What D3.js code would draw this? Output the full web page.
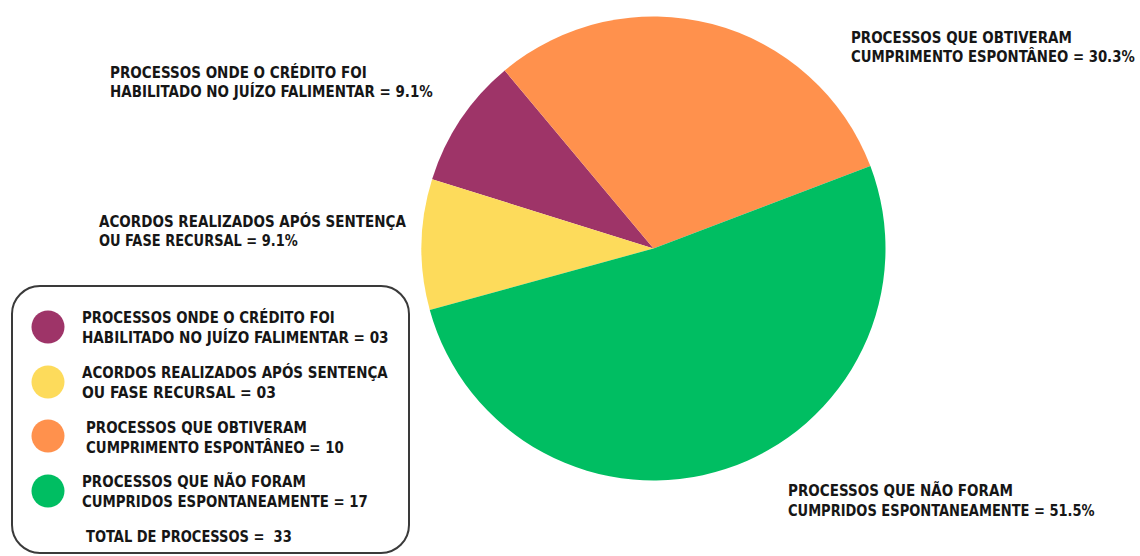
<!DOCTYPE html>
<html><head><meta charset="utf-8">
<script src="https://cdn.jsdelivr.net/npm/d3@7"></script>
<style>
html,body{margin:0;padding:0;background:#fff;}
svg{display:block;}
text{font-family:"Liberation Sans Narrow","DejaVu Sans Condensed","Liberation Sans",sans-serif;font-weight:bold;fill:#161616;white-space:pre;}
</style></head>
<body>
<script>
// Data
const categories = ["credito","acordos","obtiveram","naoCumpridos"];
const counts = [3, 3, 10, 17];
const colors = ["#9E3468", "#FDDB5B", "#FF914D", "#00BE62"];
const pieLabels = [
  ["PROCESSOS ONDE O CRÉDITO FOI", "HABILITADO NO JUÍZO FALIMENTAR = "],
  ["ACORDOS REALIZADOS APÓS SENTENÇA", "OU FASE RECURSAL = "],
  ["PROCESSOS QUE OBTIVERAM", "CUMPRIMENTO ESPONTÂNEO = "],
  ["PROCESSOS QUE NÃO FORAM", "CUMPRIDOS ESPONTANEAMENTE = "]
];
const legendLabels = [
  ["PROCESSOS ONDE O CRÉDITO FOI", "HABILITADO NO JUÍZO FALIMENTAR = 03"],
  ["ACORDOS REALIZADOS APÓS SENTENÇA", "OU FASE RECURSAL = 03"],
  ["PROCESSOS QUE OBTIVERAM", "CUMPRIMENTO ESPONTÂNEO = 10"],
  ["PROCESSOS QUE NÃO FORAM", "CUMPRIDOS ESPONTANEAMENTE = 17"]
];
const totalLabel = "TOTAL DE PROCESSOS =  33";
// clockwise drawing order of slices (indices into categories)
const sliceOrder = [3, 1, 0, 2];

const W = 1140, H = 556;
const svg = d3.select("body").append("svg").attr("width", W).attr("height", H);

const total = d3.sum(counts);
const pct = counts.map(c => (c / total * 100).toFixed(1) + "%");

// Pie
const cx = 653.5, cy = 248.5, R = 232;
const start = 69.2 * Math.PI / 180;
const pie = d3.pie()
  .value(i => counts[i])
  .sort((a, b) => sliceOrder.indexOf(a) - sliceOrder.indexOf(b))
  .startAngle(start).endAngle(start + 2 * Math.PI);
const arc = d3.arc().innerRadius(0).outerRadius(R);
svg.append("g").attr("transform", `translate(${cx},${cy})`)
  .selectAll("path").data(pie(d3.range(counts.length)))
  .join("path").attr("d", arc).attr("fill", d => colors[d.data]);

// helper: draw a text line, scaled horizontally to a target width
function line(g, str, x, y, w, size) {
  const t = g.append("text").attr("x", 0).attr("y", 0).attr("font-size", size).text(str);
  const nat = t.node().getComputedTextLength();
  const s = w && nat ? w / nat : 1;
  t.attr("transform", `translate(${x},${y}) scale(${s},1)`);
  return t;
}

// Pie labels
const labelPos = [
  {x: 110, y: [78, 97], w: [257, 323]},
  {x: 99, y: [227, 246], w: [307, 199]},
  {x: 851, y: [43, 62], w: [221, 284]},
  {x: 788, y: [496, 516], w: [225, 307]}
];
const lg = svg.append("g");
pieLabels.forEach((lab, i) => {
  const p = labelPos[i];
  line(lg, lab[0], p.x, p.y[0], p.w[0], 16.5);
  line(lg, lab[1] + pct[i], p.x, p.y[1], p.w[1], 16.5);
});

// Legend box
svg.append("rect").attr("x", 12).attr("y", 286).attr("width", 397).attr("height", 267)
  .attr("rx", 28).attr("ry", 28).attr("fill", "none").attr("stroke", "#3a3a3a").attr("stroke-width", 2);

const legPos = [
  {cy: 327, x: 82, y: [323, 343], w: [253, 307]},
  {cy: 382, x: 82, y: [378, 398], w: [306, 194]},
  {cy: 436, x: 86, y: [433, 453], w: [221, 258]},
  {cy: 491, x: 82, y: [487, 507], w: [224, 286]}
];
const leg = svg.append("g");
legendLabels.forEach((lab, i) => {
  const p = legPos[i];
  leg.append("circle").attr("cx", 48).attr("cy", p.cy).attr("r", 16.5).attr("fill", colors[i]);
  line(leg, lab[0], p.x, p.y[0], p.w[0], 16.5);
  line(leg, lab[1], p.x, p.y[1], p.w[1], 16.5);
});
line(leg, totalLabel, 86, 542, 206, 16.5);
</script>
</body></html>
